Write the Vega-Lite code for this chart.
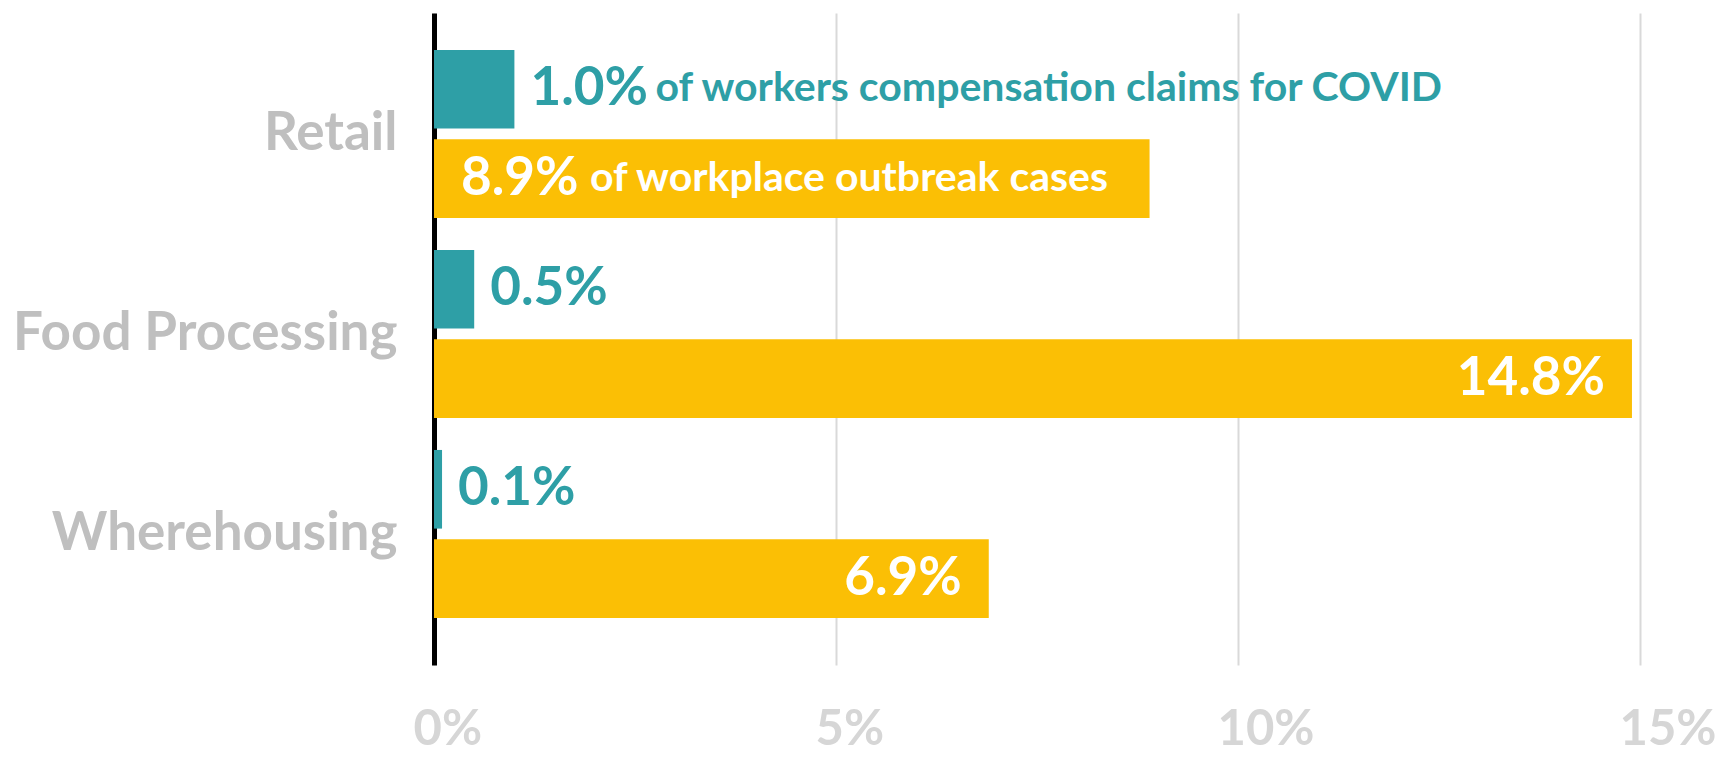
{
  "$schema": "https://vega.github.io/schema/vega-lite/v6.json",
  "autosize": "none",
  "width": 1206,
  "height": 652,
  "padding": {"left": 434, "top": 13, "right": 89, "bottom": 92},
  "background": "white",
  "config": {
    "view": {"stroke": null},
    "font": "Lato",
    "text": {"font": "Lato", "fontWeight": "bold", "baseline": "middle"}
  },
  "data": {
    "values": [
      {"industry": "Retail", "series": "claims", "value": 1.0, "label": "1.0%", "desc": "of workers compensation claims for COVID"},
      {"industry": "Retail", "series": "outbreaks", "value": 8.9, "label": "8.9%", "desc": "of workplace outbreak cases"},
      {"industry": "Food Processing", "series": "claims", "value": 0.5, "label": "0.5%", "desc": ""},
      {"industry": "Food Processing", "series": "outbreaks", "value": 14.9, "label": "14.8%", "desc": ""},
      {"industry": "Wherehousing", "series": "claims", "value": 0.1, "label": "0.1%", "desc": ""},
      {"industry": "Wherehousing", "series": "outbreaks", "value": 6.9, "label": "6.9%", "desc": ""}
    ]
  },
  "encoding": {
    "y": {
      "field": "industry",
      "type": "nominal",
      "sort": ["Retail", "Food Processing", "Wherehousing"],
      "scale": {"paddingInner": 0.16, "paddingOuter": 0.21, "align": 0.44},
      "axis": {
        "title": null,
        "ticks": false,
        "grid": false,
        "domainColor": "#000000",
        "domainWidth": 5,
        "labelFont": "Lato",
        "labelFontWeight": "bold",
        "labelFontSize": 53,
        "labelColor": "#bfbfbf",
        "labelPadding": 37,
        "labelLimit": 0
      }
    },
    "yOffset": {
      "field": "series",
      "type": "nominal",
      "sort": ["claims", "outbreaks"],
      "scale": {"paddingInner": 0.12, "paddingOuter": 0}
    },
    "x": {
      "field": "value",
      "type": "quantitative",
      "scale": {"domain": [0, 15], "nice": false},
      "axis": {
        "title": null,
        "values": [0, 5, 10, 15],
        "format": ".0f",
        "labelExpr": "datum.value + '%'",
        "ticks": false,
        "domain": false,
        "grid": true,
        "gridColor": "#d9d9d9",
        "gridWidth": 2,
        "labelFont": "Lato",
        "labelFontWeight": "bold",
        "labelFontSize": 49,
        "labelColor": "#d6d6d6",
        "labelPadding": 40,
        "labelAlign": "left",
        "labelOffset": -21,
        "labelFlush": false
      }
    }
  },
  "layer": [
    {
      "mark": {"type": "bar"},
      "encoding": {
        "color": {
          "field": "series",
          "type": "nominal",
          "scale": {"domain": ["claims", "outbreaks"], "range": ["#2e9fa6", "#fbbf05"]},
          "legend": null
        }
      }
    },
    {
      "transform": [{"filter": "datum.series === 'claims'"}],
      "mark": {"type": "text", "align": "left", "dx": 16, "fontSize": 53, "color": "#2e9fa6"},
      "encoding": {"text": {"field": "label"}}
    },
    {
      "transform": [{"filter": "datum.series === 'claims' && datum.desc !== ''"}],
      "mark": {"type": "text", "align": "left", "dx": 141, "fontSize": 41, "color": "#2e9fa6"},
      "encoding": {"text": {"field": "desc"}}
    },
    {
      "transform": [{"filter": "datum.series === 'outbreaks' && datum.desc !== ''"}],
      "mark": {"type": "text", "align": "left", "dx": 27, "fontSize": 53, "color": "#ffffff"},
      "encoding": {"x": {"datum": 0, "type": "quantitative"}, "text": {"field": "label"}}
    },
    {
      "transform": [{"filter": "datum.series === 'outbreaks' && datum.desc !== ''"}],
      "mark": {"type": "text", "align": "left", "dx": 156, "fontSize": 41, "color": "#ffffff"},
      "encoding": {"x": {"datum": 0, "type": "quantitative"}, "text": {"field": "desc"}}
    },
    {
      "transform": [{"filter": "datum.series === 'outbreaks' && datum.desc === ''"}],
      "mark": {"type": "text", "align": "right", "dx": -27, "fontSize": 53, "color": "#ffffff"},
      "encoding": {"text": {"field": "label"}}
    }
  ]
}
